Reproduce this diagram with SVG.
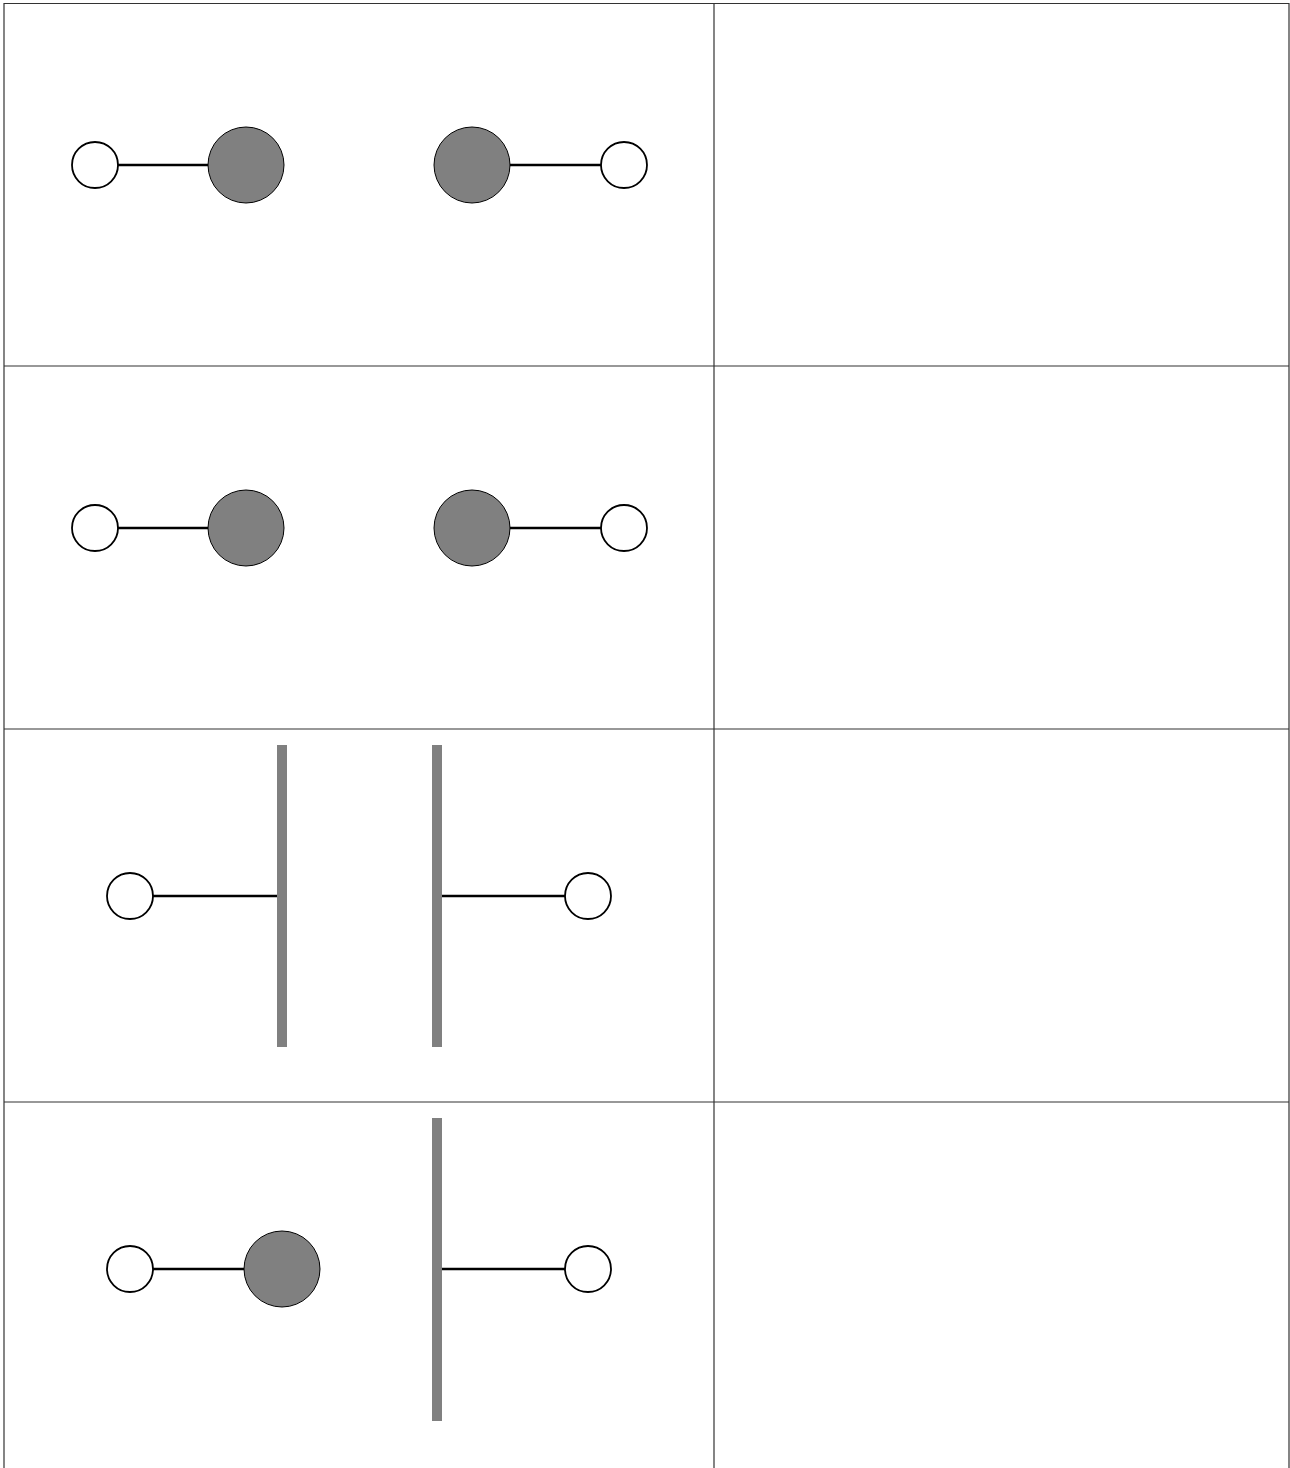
<svg xmlns="http://www.w3.org/2000/svg" width="1290" height="1468" viewBox="0 0 1290 1468">
<style>
.grid{stroke:#333;stroke-width:1.2;fill:none}
.bond{stroke:#000;stroke-width:2.5}
.h{fill:#fff;stroke:#000;stroke-width:1.8}
.x{fill:#808080;stroke:#000;stroke-width:1}
.wall{fill:#808080}
</style>
<rect width="1290" height="1468" fill="#fff"/>
<g id="grid">
<line class="grid" x1="4" y1="3.5" x2="1289" y2="3.5"/>
<line class="grid" x1="4" y1="3" x2="4" y2="1468"/>
<line class="grid" x1="1289" y1="3" x2="1289" y2="1468"/>
<line class="grid" x1="714" y1="3" x2="714" y2="1468"/>
<line class="grid" x1="4" y1="366" x2="1289" y2="366"/>
<line class="grid" x1="4" y1="729" x2="1289" y2="729"/>
<line class="grid" x1="4" y1="1102" x2="1289" y2="1102"/>
</g>
<g id="connectors">
<line class="bond" x1="118" y1="165" x2="208" y2="165"/>
<line class="bond" x1="510" y1="165" x2="601" y2="165"/>
<line class="bond" x1="118" y1="528" x2="208" y2="528"/>
<line class="bond" x1="510" y1="528" x2="601" y2="528"/>
<line class="bond" x1="153" y1="896" x2="277" y2="896"/>
<line class="bond" x1="442" y1="896" x2="565" y2="896"/>
<line class="bond" x1="153" y1="1269" x2="244" y2="1269"/>
<line class="bond" x1="442" y1="1269" x2="565" y2="1269"/>
</g>
<g id="r1a"><circle class="h" cx="95" cy="165" r="23"/><circle class="x" cx="246" cy="165" r="38"/></g>
<g id="r1b"><circle class="x" cx="472" cy="165" r="38"/><circle class="h" cx="624" cy="165" r="23"/></g>
<g id="r2a"><circle class="h" cx="95" cy="528" r="23"/><circle class="x" cx="246" cy="528" r="38"/></g>
<g id="r2b"><circle class="x" cx="472" cy="528" r="38"/><circle class="h" cx="624" cy="528" r="23"/></g>
<g id="r3a"><circle class="h" cx="130" cy="896" r="23"/><rect class="wall" x="277" y="745" width="10" height="302"/></g>
<g id="r3b"><rect class="wall" x="432" y="745" width="10" height="302"/><circle class="h" cx="588" cy="896" r="23"/></g>
<g id="r4a"><circle class="h" cx="130" cy="1269" r="23"/><circle class="x" cx="282" cy="1269" r="38"/></g>
<g id="r4b"><rect class="wall" x="432" y="1118" width="10" height="303"/><circle class="h" cx="588" cy="1269" r="23"/></g>
</svg>
